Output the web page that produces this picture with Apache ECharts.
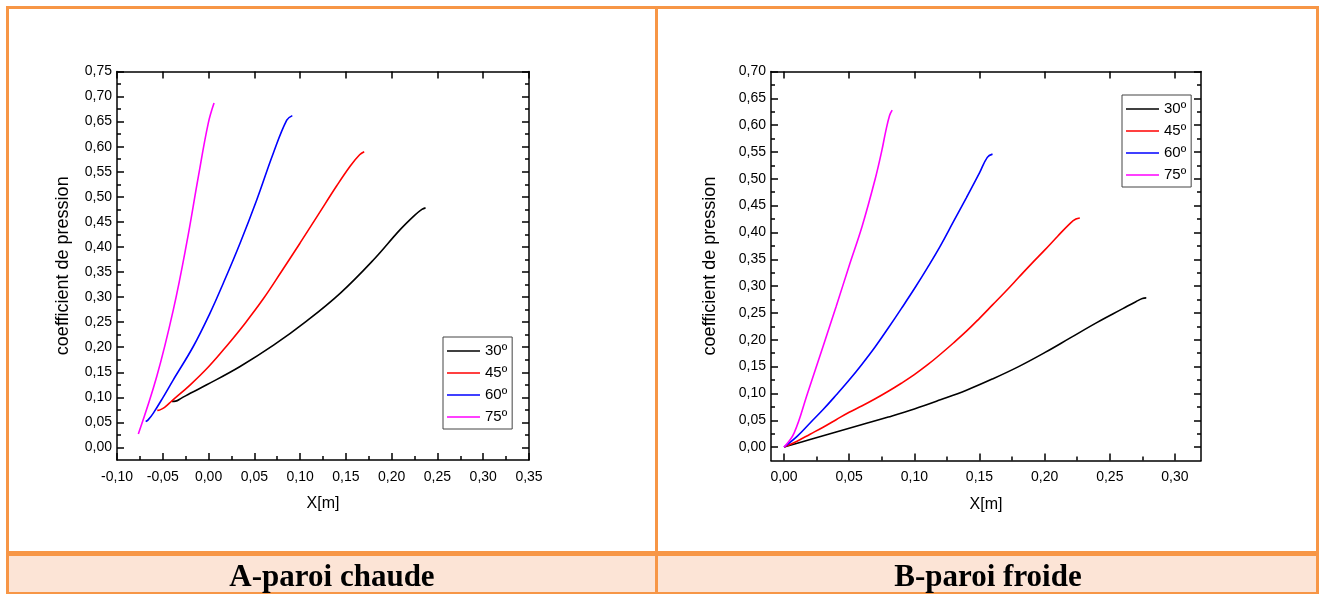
<!DOCTYPE html>
<html>
<head>
<meta charset="utf-8">
<script src="https://cdn.jsdelivr.net/npm/echarts@6/dist/echarts.min.js"></script>
<style>
html,body{margin:0;padding:0;background:#fff;}
#c{width:1322px;height:595px;}
</style>
</head>
<body>
<div id="c"></div>
<script>
// ---- A : paroi chaude ----
const aX30 = [-0.040, -0.036, -0.030, -0.020, -0.002, 0.034, 0.071, 0.107, 0.144, 0.180, 0.209, 0.225, 0.233, 0.237];
const aY30 = [0.092, 0.0925, 0.098, 0.108, 0.125, 0.161, 0.204, 0.252, 0.308, 0.374, 0.434, 0.463, 0.475, 0.478];
const aX45 = [-0.056, -0.053, -0.048, -0.040, -0.020, 0.000, 0.020, 0.040, 0.060, 0.080, 0.100, 0.120, 0.140, 0.155, 0.165, 0.170];
const aY45 = [0.074, 0.075, 0.080, 0.093, 0.125, 0.161, 0.203, 0.248, 0.297, 0.352, 0.408, 0.465, 0.522, 0.562, 0.584, 0.590];
const aX60 = [-0.0687, -0.066, -0.0603, -0.050, -0.0385, -0.0167, 0.0016, 0.0161, 0.0344, 0.0526, 0.0707, 0.0854, 0.0915];
const aY60 = [0.052, 0.055, 0.0686, 0.099, 0.135, 0.2014, 0.268, 0.3277, 0.4075, 0.4938, 0.587, 0.653, 0.662];
const aX75 = [-0.0767, -0.0566, -0.0385, -0.0239, -0.0112, -0.0003, 0.006];
const aY75 = [0.027, 0.1416, 0.2745, 0.4075, 0.540, 0.647, 0.687];

// ---- B : paroi froide ----
const bX30 = [0, 0.02, 0.04, 0.06, 0.08, 0.10, 0.12, 0.14, 0.16, 0.18, 0.20, 0.22, 0.24, 0.26, 0.27, 0.275, 0.278];
const bY30 = [0, 0.014, 0.028, 0.042, 0.056, 0.071, 0.088, 0.106, 0.127, 0.150, 0.176, 0.204, 0.232, 0.258, 0.271, 0.277, 0.278];
const bX45 = [0, 0.01, 0.02, 0.03, 0.04, 0.05, 0.06, 0.07, 0.08, 0.09, 0.10, 0.11, 0.12, 0.13, 0.14, 0.15, 0.16, 0.17, 0.18, 0.19, 0.20, 0.21, 0.22, 0.224, 0.227];
const bY45 = [0, 0.011, 0.024, 0.037, 0.051, 0.065, 0.077, 0.090, 0.104, 0.119, 0.135, 0.153, 0.173, 0.194, 0.216, 0.240, 0.265, 0.290, 0.316, 0.342, 0.367, 0.393, 0.418, 0.425, 0.427];
const bX60 = [0, 0.01, 0.02, 0.03, 0.04, 0.05, 0.06, 0.07, 0.08, 0.09, 0.10, 0.11, 0.12, 0.13, 0.14, 0.15, 0.156, 0.160];
const bY60 = [0, 0.020, 0.045, 0.070, 0.097, 0.125, 0.155, 0.187, 0.222, 0.258, 0.295, 0.334, 0.375, 0.420, 0.465, 0.511, 0.540, 0.546];
const bX75 = [0, 0.0077, 0.018, 0.03, 0.04, 0.05, 0.06, 0.07, 0.075, 0.078, 0.081, 0.083];
const bY75 = [0, 0.026, 0.100, 0.188, 0.262, 0.338, 0.412, 0.500, 0.552, 0.588, 0.618, 0.628];

// ---- labels / ticks ----
const seriesNames = ['30º', '45º', '60º', '75º'];
const seriesColors = ['#000000', '#ff0000', '#0000ff', '#ff00ff'];
const aXTicks = [-0.10, -0.05, 0.00, 0.05, 0.10, 0.15, 0.20, 0.25, 0.30, 0.35];
const aYTicks = [0.00, 0.05, 0.10, 0.15, 0.20, 0.25, 0.30, 0.35, 0.40, 0.45, 0.50, 0.55, 0.60, 0.65, 0.70, 0.75];
const bXTicks = [0.00, 0.05, 0.10, 0.15, 0.20, 0.25, 0.30];
const bYTicks = [0.00, 0.05, 0.10, 0.15, 0.20, 0.25, 0.30, 0.35, 0.40, 0.45, 0.50, 0.55, 0.60, 0.65, 0.70];
const xAxisTitle = 'X[m]';
const yAxisTitle = 'coefficient de pression';
const panelTitles = ['A-paroi chaude', 'B-paroi froide'];

const SANS = "'Liberation Sans',Arial,Helvetica,sans-serif";
const fmt = v => (Math.round(v * 100) / 100).toFixed(2).replace('.', ',');
function minorsOf(majors, min, max) {
  const out = [];
  const step = majors[1] - majors[0];
  for (let i = -1; i < majors.length; i++) {
    const base = i < 0 ? majors[0] - step : majors[i];
    const m = +(base + step / 2).toFixed(4);
    if (m > min + 1e-9 && m < max - 1e-9) out.push(m);
  }
  return out;
}
const zip = (xs, ys) => xs.map((x, i) => [x, ys[i]]);
const lineS = { color: '#000', width: 1.5 };

function xAxes(gi, min, max, majors, nameGap) {
  return [
    { gridIndex: gi, type: 'value', min, max, position: 'bottom',
      axisLine: { show: true, onZero: false, lineStyle: lineS },
      axisTick: { show: true, inside: true, length: 7, customValues: majors, lineStyle: lineS },
      axisLabel: { show: true, customValues: majors, formatter: fmt, margin: 10, color: '#000', fontSize: 14, fontFamily: SANS },
      splitLine: { show: false },
      name: xAxisTitle, nameLocation: 'middle', nameGap: nameGap,
      nameTextStyle: { color: '#000', fontSize: 16, fontFamily: SANS } },
    { gridIndex: gi, type: 'value', min, max, position: 'bottom',
      axisLine: { show: false, onZero: false },
      axisTick: { show: true, inside: true, length: 4, customValues: minorsOf(majors, min, max), lineStyle: lineS },
      axisLabel: { show: false }, splitLine: { show: false } },
    { gridIndex: gi, type: 'value', min, max, position: 'top',
      axisLine: { show: true, onZero: false, lineStyle: lineS },
      axisTick: { show: true, inside: true, length: 7, customValues: majors, lineStyle: lineS },
      axisLabel: { show: false }, splitLine: { show: false } }
  ];
}
function yAxes(gi, min, max, majors, nameGap) {
  return [
    { gridIndex: gi, type: 'value', min, max, position: 'left',
      axisLine: { show: true, onZero: false, lineStyle: lineS },
      axisTick: { show: true, inside: true, length: 7, customValues: majors, lineStyle: lineS },
      axisLabel: { show: true, customValues: majors, formatter: fmt, margin: 5, color: '#000', fontSize: 14, fontFamily: SANS },
      splitLine: { show: false },
      name: yAxisTitle, nameLocation: 'middle', nameGap: nameGap,
      nameTextStyle: { color: '#000', fontSize: 18, fontFamily: SANS } },
    { gridIndex: gi, type: 'value', min, max, position: 'left',
      axisLine: { show: false, onZero: false },
      axisTick: { show: true, inside: true, length: 4, customValues: minorsOf(majors, min, max), lineStyle: lineS },
      axisLabel: { show: false }, splitLine: { show: false } },
    { gridIndex: gi, type: 'value', min, max, position: 'right',
      axisLine: { show: true, onZero: false, lineStyle: lineS },
      axisTick: { show: true, inside: true, length: 7, customValues: majors, lineStyle: lineS },
      axisLabel: { show: false }, splitLine: { show: false } },
    { gridIndex: gi, type: 'value', min, max, position: 'right',
      axisLine: { show: false, onZero: false },
      axisTick: { show: true, inside: true, length: 4, customValues: minorsOf(majors, min, max), lineStyle: lineS },
      axisLabel: { show: false }, splitLine: { show: false } }
  ];
}

const aData = [zip(aX30, aY30), zip(aX45, aY45), zip(aX60, aY60), zip(aX75, aY75)];
const bData = [zip(bX30, bY30), zip(bX45, bY45), zip(bX60, bY60), zip(bX75, bY75)];
const series = [];
aData.forEach((d, i) => series.push({
  type: 'line', name: seriesNames[i], xAxisIndex: 0, yAxisIndex: 0, data: d,
  smooth: 0.4, symbol: 'none', lineStyle: { color: seriesColors[i], width: 1.6 },
  itemStyle: { color: seriesColors[i] }, z: 5, animation: false
}));
bData.forEach((d, i) => series.push({
  type: 'line', name: seriesNames[i], xAxisIndex: 3, yAxisIndex: 4, data: d,
  smooth: 0.4, symbol: 'none', lineStyle: { color: seriesColors[i], width: 1.6 },
  itemStyle: { color: seriesColors[i] }, z: 5, animation: false
}));

const ORANGE = '#F79646';
const PEACH = '#FCE4D6';
function bar(x, y, w, h, fill) { return { type: 'rect', shape: { x, y, width: w, height: h }, style: { fill }, z: 1, silent: true }; }

const legendBase = {
  orient: 'vertical', icon: 'rect', itemWidth: 33, itemHeight: 1.6, itemGap: 6,
  padding: [6, 5, 4, 4], borderColor: '#444', borderWidth: 1, backgroundColor: '#fff',
  textStyle: { color: '#000', fontSize: 15, lineHeight: 16, fontFamily: SANS },
  data: seriesNames, selectedMode: false
};

const option = {
  animation: false,
  backgroundColor: '#fff',
  grid: [
    { left: 117, top: 71.5, width: 412, height: 388.5 },
    { left: 771, top: 71.5, width: 430, height: 389 }
  ],
  xAxis: [].concat(xAxes(0, -0.10, 0.35, aXTicks, 36), xAxes(1, -0.01, 0.32, bXTicks, 36)),
  yAxis: [].concat(yAxes(0, -0.025, 0.75, aYTicks, 45), yAxes(1, -0.025, 0.70, bYTicks, 52)),
  legend: [
    Object.assign({}, legendBase, { left: 443, top: 337 }),
    Object.assign({}, legendBase, { left: 1122, top: 95 })
  ],
  series: series,
  graphic: [
    bar(9, 556, 646, 37, PEACH),
    bar(658, 556, 658, 37, PEACH),
    bar(6, 6, 1313, 3, ORANGE),
    bar(6, 6, 3, 588, ORANGE),
    bar(1316, 6, 3, 588, ORANGE),
    bar(655, 6, 3, 588, ORANGE),
    bar(6, 551, 1313, 5, ORANGE),
    bar(6, 592, 1313, 2, ORANGE),
    { type: 'text', x: 332, y: 578, z: 2, silent: true,
      style: { text: panelTitles[0], fill: '#000', font: "bold 31px 'Liberation Serif','Times New Roman',serif", textAlign: 'center', textVerticalAlign: 'middle' } },
    { type: 'text', x: 988, y: 578, z: 2, silent: true,
      style: { text: panelTitles[1], fill: '#000', font: "bold 31px 'Liberation Serif','Times New Roman',serif", textAlign: 'center', textVerticalAlign: 'middle' } }
  ]
};

const chart = echarts.init(document.getElementById('c'), null, { renderer: 'canvas' });
chart.setOption(option);
</script>
</body>
</html>
